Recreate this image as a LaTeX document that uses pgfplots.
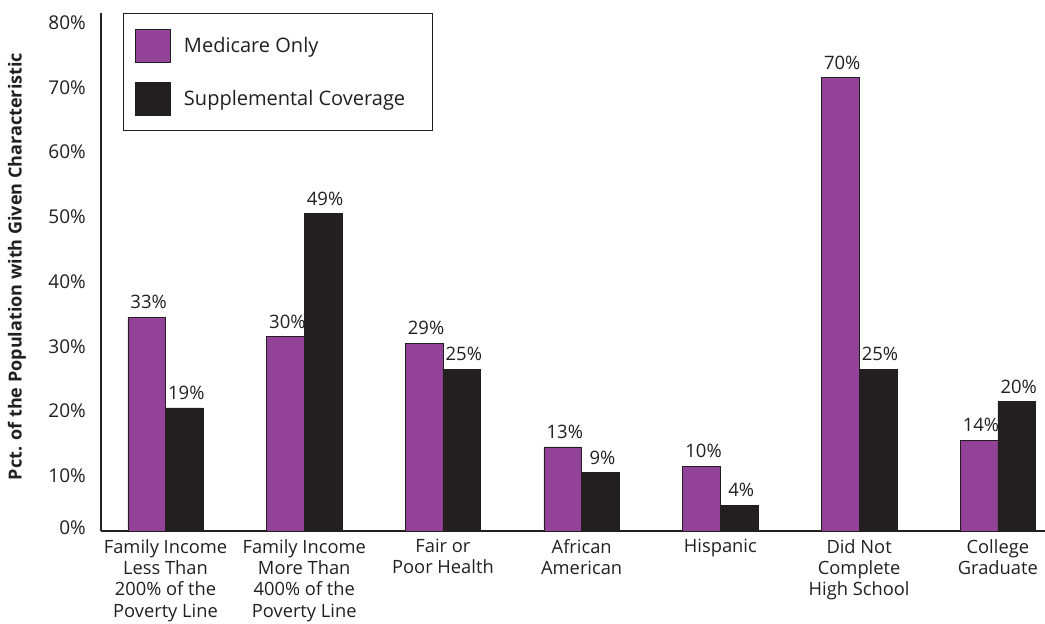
\documentclass[border=0pt]{standalone}
\usepackage{pgfplots}
\pgfplotsset{compat=1.18}
\usepackage{fontspec}
\setmainfont{Open Sans}
\definecolor{medpurple}{HTML}{924397}
\definecolor{supblack}{HTML}{231F20}
\begin{document}
\begin{tikzpicture}[x=1bp,y=1bp]
\useasboundingbox (0,0) rectangle (1045,-624);
\begin{axis}[
  at={(101bp,-531bp)}, anchor=south west,
  scale only axis, width=944bp, height=518bp,
  xmin=-0.465, xmax=6.34, ymin=0, ymax=80,
  axis x line*=bottom, axis y line*=left,
  axis line style={draw=supblack, line width=1.3bp, -},
  major tick length=0pt,
  ytick={10,20,30,40,50,60,70,80},
  yticklabels={10\%,20\%,30\%,40\%,50\%,60\%,70\%,80\%},
  extra y ticks={0}, extra y tick labels={0\%},
  extra y tick style={yticklabel style={yshift=12.5bp}},
  yticklabel style={anchor=east, inner sep=0pt, xshift=-15bp, yshift=-9.5bp, font=\fontsize{19bp}{22bp}\selectfont, text=supblack},
  xtick={0,1,2,3,4,5,6},
  xticklabels={{Family Income\\Less Than\\200\% of the\\Poverty Line},
               {Family Income\\More Than\\400\% of the\\Poverty Line},
               {Fair or\\Poor Health},
               {African\\American},
               {Hispanic},
               {Did Not\\Complete\\High School},
               {College\\Graduate}},
  xticklabel style={align=center, anchor=north, inner sep=0pt, yshift=-8bp, font=\fontsize{18.3bp}{21.3bp}\selectfont, text=supblack},
  ylabel={Pct. of the Population with Given Characteristic},
  ylabel style={at={(axis description cs:-0.089,0.5106)}, anchor=center, font=\fontsize{18bp}{20bp}\selectfont\bfseries, text=supblack},
  ybar=0pt, bar width=37.7bp,
  nodes near coords={\pgfmathprintnumber[assume math mode=true]{\pgfplotspointmeta}\%},
  every node near coord/.append style={anchor=south, inner sep=0pt, yshift=8bp, xshift=2bp, font=\fontsize{18.5bp}{20bp}\selectfont, text=supblack},
  legend image code/.code={\draw[#1, line width=0.6bp] (0bp,-16.5bp) rectangle (35bp,16.5bp);},
  legend style={at={(axis description cs:0.0233,1)}, anchor=north west,
    draw=supblack, line width=0.8bp, inner xsep=12bp, inner ysep=15.5bp,
    row sep=19bp, column sep=13bp, nodes={inner sep=0pt},
    font=\fontsize{20bp}{22bp}\selectfont, text=supblack},
  legend cell align=left,
]
\addplot[fill=medpurple, draw=supblack, line width=0.6bp] coordinates {
  (0,33) (1,30) (2,29) (3,13) (4,10) (5,70) (6,14)};
\addlegendentry{\makebox[236bp][l]{Medicare Only}}
\addplot[fill=supblack, draw=supblack, line width=0.6bp] coordinates {
  (0,19) (1,49) (2,25) (3,9) (4,4) (5,25) (6,20)};
\addlegendentry{\makebox[236bp][l]{Supplemental Coverage}}
\end{axis}
\end{tikzpicture}
\end{document}
